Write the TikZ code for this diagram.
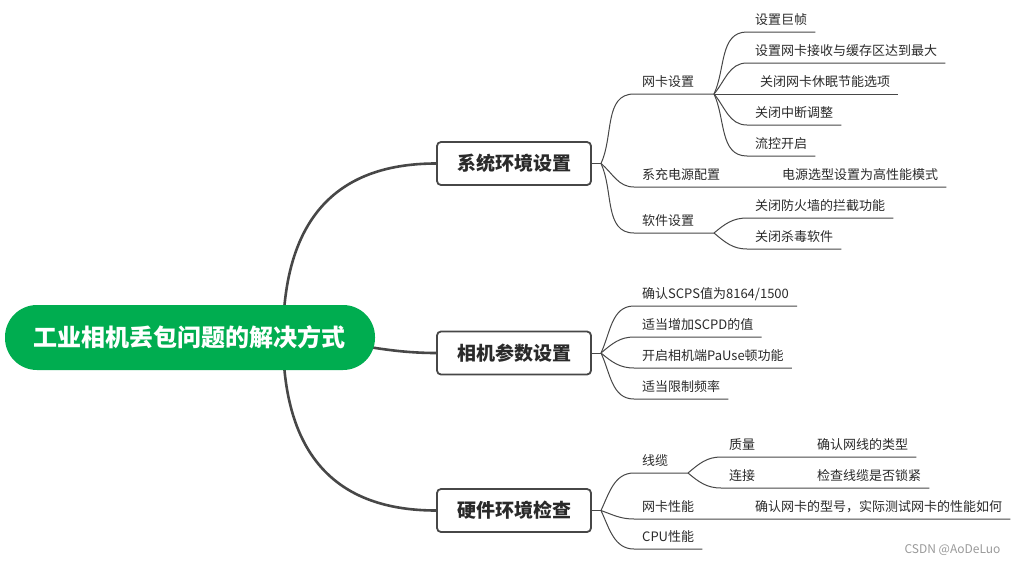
\documentclass[tikz,border=0pt]{standalone}
\usepackage{fontspec}
\setmainfont{Noto Sans CJK SC}
\usepackage{tikz}
\usetikzlibrary{backgrounds,calc}

\definecolor{rootgreen}{HTML}{00AD50}
\definecolor{inkgray}{HTML}{2A2A2A}
\definecolor{linegray}{HTML}{474747}
\definecolor{wmgray}{HTML}{9A9A9A}

\begin{document}
\begin{tikzpicture}[
    x=1pt, y=1pt,
    every node/.style={text=inkgray},
    root/.style={rectangle, rounded corners=32pt, fill=rootgreen, minimum width=370pt, minimum height=65pt, text=white, font=\fontsize{24}{29}\selectfont\bfseries},
    topic/.style={rectangle, rounded corners=4pt, draw=linegray, line width=1.8pt, fill=white, minimum width=154pt, minimum height=43pt, font=\fontsize{19}{23}\selectfont\bfseries},
    leaf/.style={anchor=south west, inner xsep=8pt, inner ysep=5pt, text height=11pt, text depth=2pt, font=\fontsize{13}{16}\selectfont},
    trunk/.style={draw=linegray, line width=2.6pt},
    twig/.style={draw=linegray, line width=1pt},
    twigup/.style={out=65, in=180},
    twigdown/.style={out=-65, in=180}
]
    \useasboundingbox (0,0) rectangle (1018,-565);

    % main topics
    \node[root] (root) at (190,-337.5) {工业相机丢包问题的解决方式};
    \node[topic] (sys) at (514,-163.5) {系统环境设置};
    \node[topic] (cam) at (514,-353) {相机参数设置};
    \node[topic] (hw) at (514,-510.5) {硬件环境检查};

    \coordinate (hub) at (283,-338);
    \coordinate (sysfork) at (601,-163.5);
    \coordinate (camfork) at (601,-353);
    \coordinate (hwfork) at (601,-510.5);
    \coordinate (nicfork) at (714,-94);
    \coordinate (softfork) at (714,-233);
    \coordinate (cablefork) at (688,-473);

    % system settings
    \node[leaf] (nic) at (634,-94) {网卡设置};
    \node[leaf] (jumbo) at (747,-32) {设置巨帧};
    \node[leaf] (ring) at (747,-63) {设置网卡接收与缓存区达到最大};
    \node[leaf] (sleep) at (752,-94) {关闭网卡休眠节能选项};
    \node[leaf] (irq) at (747,-125) {关闭中断调整};
    \node[leaf] (flow) at (747,-156) {流控开启};
    \node[leaf] (pwr) at (634,-187) {系充电源配置};
    \node[leaf] (pwrmode) at (774,-187) {电源选型设置为高性能模式};
    \node[leaf] (soft) at (634,-233) {软件设置};
    \node[leaf] (fw) at (747,-218) {关闭防火墙的拦截功能};
    \node[leaf] (av) at (747,-249) {关闭杀毒软件};

    % camera parameters
    \node[leaf] (scps) at (634,-306) {确认SCPS值为8164/1500};
    \node[leaf] (scpd) at (634,-337) {适当增加SCPD的值};
    \node[leaf] (pause) at (634,-368) {开启相机端PaUse顿功能};
    \node[leaf] (rate) at (634,-399) {适当限制频率};

    % hardware check
    \node[leaf] (cable) at (634,-473) {线缆};
    \node[leaf] (qual) at (721,-457) {质量};
    \node[leaf] (qualchk) at (809,-457) {确认网线的类型};
    \node[leaf] (link) at (721,-488) {连接};
    \node[leaf] (linkchk) at (809,-488) {检查线缆是否锁紧};
    \node[leaf] (nicperf) at (634,-519) {网卡性能};
    \node[leaf] (nicchk) at (747,-519) {确认网卡的型号，实际测试网卡的性能如何};
    \node[leaf] (cpu) at (634,-549) {CPU性能};

    \node[font=\fontsize{12}{14}\selectfont, text=wmgray, anchor=east] (wm) at (1004,-550) {CSDN @AoDeLuo};

    \begin{pgfonlayer}{background}
        \fill[white] (0,0) rectangle (1018,-565);
        \draw[trunk] (hub) to[out=90, in=180, looseness=1.2] (sys.west);
        \draw[trunk] (hub) to[out=0, in=180] (cam.west);
        \draw[trunk] (hub) to[out=-90, in=180, looseness=1.2] (hw.west);
    \end{pgfonlayer}

    \draw[twig] (sys.east) -- (sysfork);
    \draw[twig] (sysfork) to[twigup] (nic.south west) -- (nicfork);
    \draw[twig] (sysfork) to[out=-40, in=180] (pwr.south west) -- (pwrmode.south east);
    \draw[twig] (sysfork) to[twigdown] (soft.south west) -- (softfork);
    \draw[twig] (nicfork) to[twigup] (jumbo.south west) -- (jumbo.south east);
    \draw[twig] (nicfork) to[out=50, in=180] (ring.south west) -- (ring.south east);
    \draw[twig] (nicfork) -- (sleep.south east);
    \draw[twig] (nicfork) to[out=-50, in=180] (irq.south west) -- (irq.south east);
    \draw[twig] (nicfork) to[twigdown] (flow.south west) -- (flow.south east);
    \draw[twig] (softfork) to[out=40, in=180] (fw.south west) -- (fw.south east);
    \draw[twig] (softfork) to[out=-40, in=180] (av.south west) -- (av.south east);

    \draw[twig] (cam.east) -- (camfork);
    \draw[twig] (camfork) to[twigup] (scps.south west) -- (scps.south east);
    \draw[twig] (camfork) to[out=40, in=180] (scpd.south west) -- (scpd.south east);
    \draw[twig] (camfork) to[out=-40, in=180] (pause.south west) -- (pause.south east);
    \draw[twig] (camfork) to[twigdown] (rate.south west) -- (rate.south east);

    \draw[twig] (hw.east) -- (hwfork);
    \draw[twig] (hwfork) to[twigup] (cable.south west) -- (cablefork);
    \draw[twig] (hwfork) to[out=-20, in=180] (nicperf.south west) -- (nicchk.south east);
    \draw[twig] (hwfork) to[twigdown] (cpu.south west) -- (cpu.south east);
    \draw[twig] (cablefork) to[out=40, in=180] (qual.south west) -- (qualchk.south east);
    \draw[twig] (cablefork) to[out=-40, in=180] (link.south west) -- (linkchk.south east);
\end{tikzpicture}
\end{document}
